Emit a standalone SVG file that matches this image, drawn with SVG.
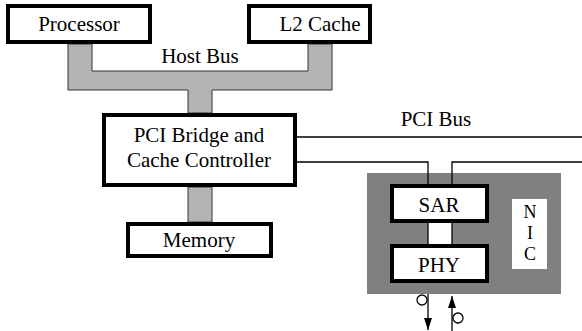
<svg xmlns="http://www.w3.org/2000/svg" width="582" height="331" viewBox="0 0 582 331" font-family="Liberation Serif, Times New Roman, serif" font-size="21">
<style>
.box{fill:#fff;stroke:#000;stroke-width:4}
.t{fill:#000;text-anchor:middle}
.nic{font-size:18px}
.bus{fill:#b3b3b3;stroke:#333;stroke-width:1}
.ln{stroke:#000;stroke-width:1.3;fill:none}
</style>
<defs>
<marker id="ah" viewBox="0 0 12 8" refX="12" refY="4" markerWidth="12" markerHeight="8" markerUnits="userSpaceOnUse" orient="auto">
<path d="M0,0 L12,4 L0,8 z" fill="#000"/>
</marker>
</defs>
<rect width="582" height="331" fill="#fff"/>
<g id="buses">
<polygon class="bus" points="68,44 68,90 188,90 188,113 212,113 212,90 332,90 332,44 308,44 308,71 92,71 92,44"/>
<rect class="bus" x="188" y="187" width="24" height="35"/>
<text class="t" x="200" y="63">Host Bus</text>
</g>
<g id="nic">
<rect x="367" y="173" width="194" height="121" fill="#808080"/>
<rect x="512" y="199" width="35" height="70" fill="#fff"/>
<text class="t nic" x="530" y="218">N</text>
<text class="t nic" x="530" y="239">I</text>
<text class="t nic" x="530" y="260">C</text>
</g>
<g id="connectors">
<line class="ln" x1="297" y1="137" x2="582" y2="137"/>
<polyline class="ln" points="297,162 428,162 428,184"/>
<polyline class="ln" points="582,162 452,162 452,184"/>
<rect x="428" y="223" width="24" height="22" fill="#fff"/>
<line class="ln" x1="428" y1="223" x2="428" y2="245"/>
<line class="ln" x1="452" y1="223" x2="452" y2="245"/>
<line class="ln" x1="428" y1="294" x2="428" y2="330" marker-end="url(#ah)"/>
<line class="ln" x1="452" y1="331" x2="452" y2="296" marker-end="url(#ah)"/>
<circle cx="422" cy="300" r="5" fill="#fff" stroke="#000" stroke-width="1.3"/>
<circle cx="458" cy="318" r="5" fill="#fff" stroke="#000" stroke-width="1.3"/>
<text class="t" x="436" y="126">PCI Bus</text>
</g>
<g id="processor">
<rect class="box" x="8" y="6" width="142" height="36"/>
<text class="t" x="79" y="31">Processor</text>
</g>
<g id="l2cache">
<rect class="box" x="249" y="6" width="121" height="36"/>
<text class="t" x="320" y="31">L2 Cache</text>
</g>
<g id="bridge">
<rect class="box" x="104" y="115" width="191" height="70"/>
<text class="t" x="199" y="142">PCI Bridge and</text>
<text class="t" x="199" y="167">Cache Controller</text>
</g>
<g id="memory">
<rect class="box" x="128" y="224" width="143" height="32"/>
<text class="t" x="199" y="247">Memory</text>
</g>
<g id="sar">
<rect class="box" x="392" y="186" width="95" height="35"/>
<text class="t" x="439" y="212">SAR</text>
</g>
<g id="phy">
<rect class="box" x="392" y="246" width="95" height="35"/>
<text class="t" x="439" y="272">PHY</text>
</g>
</svg>
